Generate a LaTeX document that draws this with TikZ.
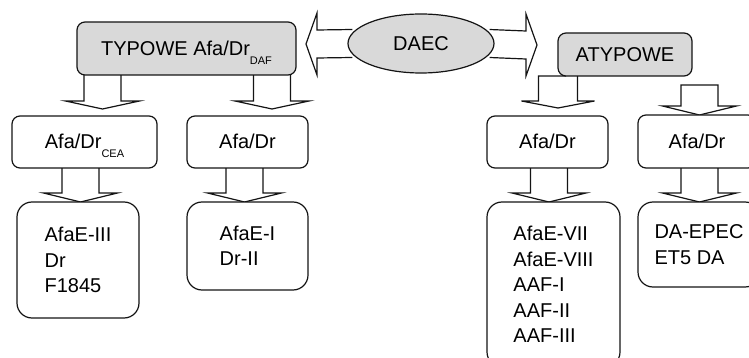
\documentclass[tikz,border=0pt]{standalone}
\usepackage{fontspec}
\setmainfont{Liberation Sans}
\usetikzlibrary{shapes.geometric,calc,backgrounds}
\newcommand\lowsub[1]{\raisebox{-9pt}{\fontsize{11}{11}\selectfont #1}}
\newcommand\dblock[4]{% center x, top y, head base y, tip y
  \draw[blk] (#1-18.5,#2) -- (#1-18.5,#3) -- (#1-37,#3) -- (#1,#4) -- (#1+37,#3) -- (#1+18.5,#3) -- (#1+18.5,#2);}
\begin{document}
\begin{tikzpicture}[x=1pt,y=-1pt,
  line/.style={draw=black!92, line width=1.2pt},
  box/.style={line, fill=white, rounded corners=8pt, inner sep=0pt, align=center,
    text=black, font=\fontsize{20}{25.5}\selectfont},
  onel/.style={text height=14pt, text depth=-3pt},
  greybox/.style={box, fill=gray!30},
  listbox/.style={box, rounded corners=15pt, align=left},
  blk/.style={line, fill=white, line join=miter}
]
\useasboundingbox (0,0) rectangle (749,358);
\clip (0,0) rectangle (749,358);

% top level
\node[greybox, onel, minimum width=219pt, minimum height=53pt] (typ) at (186.5,48.5) {TYPOWE Afa/Dr\lowsub{DAF}};
\node[box, onel, ellipse, fill=gray!30, minimum width=146pt, minimum height=59pt] (daec) at (421,43.5) {DAEC};
\node[greybox, onel, minimum width=134pt, minimum height=43pt] (atyp) at (625,54.5) {ATYPOWE};

% second level
\node[box, onel, minimum width=145pt, minimum height=52pt] (cea) at (84.5,142) {Afa/Dr\lowsub{CEA}};
\node[box, onel, minimum width=121pt, minimum height=52pt] (ad1) at (247.5,142) {Afa/Dr};
\node[box, onel, minimum width=121pt, minimum height=52pt] (ad2) at (547.5,142) {Afa/Dr};
\node[box, onel, minimum width=118pt, minimum height=53pt] (ad3) at (697,141.5) {Afa/Dr};

% third level
\node[listbox, minimum width=122pt, minimum height=116pt] (l1) at (78,260) {AfaE-III\\Dr\\F1845};
\node[listbox, minimum width=121pt, minimum height=88pt] (l2) at (247.5,246) {AfaE-I\\Dr-II};
\node[listbox, minimum width=133pt, minimum height=165pt] (l3) at (553.5,284.5) {AfaE-VII\\AfaE-VIII\\AAF-I\\AAF-II\\AAF-III};
\node[listbox, minimum width=122pt, minimum height=85pt] (l4) at (699,244.5) {DA-EPEC\\ET5 DA};

\begin{pgfonlayer}{background}
  % horizontal block arrows from DAEC
  \draw[blk] ($(daec.west)+(5,-14)$) -- (317,30) -- (317,13) -- (306,44) -- (317,75) -- (317,58) -- ($(daec.west)+(5,14)$);
  \draw[blk] ($(daec.east)+(-5,-14)$) -- (526,31) -- (526,14) -- (537,45) -- (526,76) -- (526,59) -- ($(daec.east)+(-5,14)$);
  % down block arrows
  \dblock{102.5}{73}{101}{109}
  \dblock{272}{73}{101}{109}
  \draw[blk] (566,76) -- (538.5,76) -- (538.5,101) -- (521.5,101) -- (558,108) -- (594.5,101) -- (577.5,101) -- (577.5,74);
  \draw[blk] (681,85) -- (681,106) -- (662.5,106) -- (699.5,115) -- (736.5,106) -- (718,106) -- (718,85) -- cycle;
  \dblock{80.5}{166}{193}{202}
  \dblock{244.5}{166}{193}{202}
  \dblock{549}{166}{193}{202}
  \dblock{699.5}{166}{193}{202}
\end{pgfonlayer}
\end{tikzpicture}
\end{document}
